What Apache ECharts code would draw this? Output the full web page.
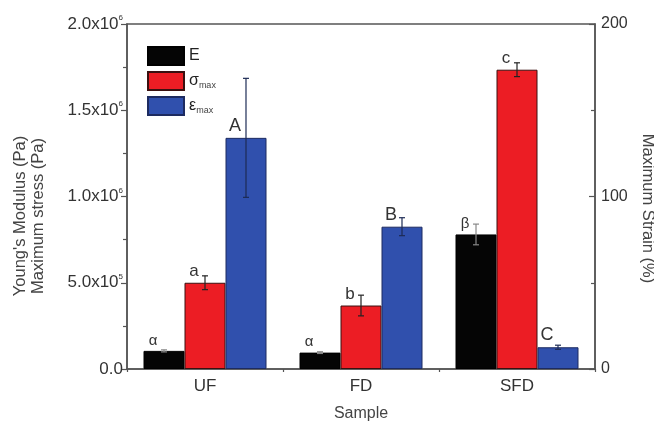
<!DOCTYPE html>
<html><head><meta charset="utf-8">
<script src="https://cdn.jsdelivr.net/npm/echarts@6/dist/echarts.min.js"></script>
<style>html,body{margin:0;padding:0;background:#fff}#c{width:654px;height:427px}</style>
</head><body><div id="c"></div>
<script>
const categories = ['UF', 'FD', 'SFD'];
const youngE = [1.05e5, 0.95e5, 7.8e5];
const youngErr = [6e3, 5e3, 6e4];
const stressMax = [5.0e5, 3.68e5, 1.735e6];
const stressErr = [4e4, 6e4, 4e4];
const strainMax = [134, 82.5, 12.6];
const strainErr = [34.5, 5.2, 1.2];
const labelsE = ['α', 'α', 'β'];
const labelsS = ['a', 'b', 'c'];
const labelsStrain = ['A', 'B', 'C'];
const leftTicks = [0, 5e5, 1e6, 1.5e6, 2e6];
const rightTicks = [0, 100, 200];

const FONT = 'Liberation Sans, Arial, sans-serif';
const AX = '#555';

function fmtLeft(v) {
  if (v === 0) return '0.0';
  const e = Math.floor(Math.log10(v) + 1e-9);
  const m = v / Math.pow(10, e);
  return m.toFixed(1) + 'x10{sup|' + e + '}';
}

function errSeries(name, vals, errs, yIdx, offFrac, color) {
  return {
    type: 'custom', name: name + '_err', yAxisIndex: yIdx, z: 5,
    data: vals.map((v, i) => [i, v, errs[i]]),
    renderItem: function (params, api) {
      const band = api.size([1, 0])[0];
      const top = api.coord([api.value(0), api.value(1) + api.value(2)]);
      const bot = api.coord([api.value(0), api.value(1) - api.value(2)]);
      const x = top[0] + band * offFrac;
      const cap = 3;
      const st = { stroke: color, lineWidth: 1.2 };
      return { type: 'group', children: [
        { type: 'line', shape: { x1: x, y1: top[1], x2: x, y2: bot[1] }, style: st },
        { type: 'line', shape: { x1: x - cap, y1: top[1], x2: x + cap, y2: top[1] }, style: st },
        { type: 'line', shape: { x1: x - cap, y1: bot[1], x2: x + cap, y2: bot[1] }, style: st }
      ]};
    },
    silent: true, tooltip: { show: false }
  };
}

function barLabel(arr, size) {
  return {
    show: true, position: 'top', distance: 3, offset: [-11, 0],
    formatter: p => arr[p.dataIndex],
    fontFamily: FONT, fontSize: size, color: '#333'
  };
}

const chart = echarts.init(document.getElementById('c'));
chart.setOption({
  animation: false,
  backgroundColor: '#fff',
  grid: { left: 127, right: 59, top: 24, bottom: 58, containLabel: false, outerBoundsMode: 'none',
    show: true, borderColor: AX, borderWidth: 1.5, backgroundColor: 'transparent' },
  legend: {
    orient: 'vertical', left: 142, top: 41, itemWidth: 36, itemHeight: 18, itemGap: 5, icon: 'rect',
    data: ['E', 'σmax', 'εmax'],
    formatter: function (n) {
      if (n === 'E') return '{a|E}';
      return '{a|' + n.charAt(0) + '}{sub|max}';
    },
    textStyle: {
      fontFamily: FONT, color: '#222',
      rich: { a: { fontSize: 16, fontFamily: FONT, color: '#222' }, sub: { fontSize: 9, fontFamily: FONT, color: '#444', padding: [10, 0, 0, 0] } }
    }
  },
  xAxis: [{
    type: 'category', data: categories, position: 'bottom',
    axisLine: { lineStyle: { color: AX, width: 1.5 } },
    axisTick: { alignWithLabel: true, length: 6, lineStyle: { color: AX, width: 1.2 } },
    axisLabel: { fontFamily: FONT, fontSize: 17, color: '#333', margin: 9 },
    name: 'Sample', nameLocation: 'middle', nameGap: 37,
    nameTextStyle: { fontFamily: FONT, fontSize: 16, color: '#444' }
  }, {
    type: 'category', data: categories, position: 'bottom',
    axisLine: { show: false },
    axisTick: { show: true, length: 3, interval: 0, lineStyle: { color: AX, width: 1.2 } },
    axisLabel: { show: false }
  }],
  yAxis: [{
    type: 'value', min: 0, max: 2e6, interval: 5e5, position: 'left',
    axisLine: { show: true, lineStyle: { color: AX, width: 1.5 } },
    axisTick: { show: true, length: 6, lineStyle: { color: AX, width: 1.2 } },
    minorTick: { show: true, splitNumber: 2, length: 4, lineStyle: { color: AX, width: 1.2 } },
    splitLine: { show: false },
    axisLabel: {
      formatter: fmtLeft, fontFamily: FONT, fontSize: 17, color: '#333', margin: 4,
      rich: { sup: { fontSize: 8, fontFamily: FONT, color: '#333', padding: [0, 0, 12, 0] } }
    },
    name: "Young's Modulus (Pa)\nMaximum stress (Pa)", nameLocation: 'middle', nameGap: 80, nameRotate: 90,
    nameTextStyle: { fontFamily: FONT, fontSize: 16.5, color: '#444', lineHeight: 18, padding: [0, 0, 0, -39] }
  }, {
    type: 'value', min: 0, max: 200, interval: 100, position: 'right',
    axisLine: { show: true, lineStyle: { color: AX, width: 1.5 } },
    axisTick: { show: true, inside: true, length: 6, lineStyle: { color: AX, width: 1.2 } },
    minorTick: { show: true, splitNumber: 2, length: 4, lineStyle: { color: AX, width: 1.2 } },
    splitLine: { show: false },
    axisLabel: { fontFamily: FONT, fontSize: 16, color: '#333', margin: 6 },
    name: 'Maximum Strain (%)', nameLocation: 'middle', nameGap: 42, nameRotate: -90,
    nameTextStyle: { fontFamily: FONT, fontSize: 16.5, color: '#444', padding: [0, -24, 0, 0] }
  }],
  series: [
    { type: 'bar', name: 'E', data: youngE, yAxisIndex: 0, barWidth: 41, barGap: '0%',
      itemStyle: { color: '#050505', borderColor: '#000', borderWidth: 1 }, label: barLabel(labelsE, 15) },
    { type: 'bar', name: 'σmax', data: stressMax, yAxisIndex: 0, barWidth: 41, barGap: '0%',
      itemStyle: { color: '#ec1d24', borderColor: '#3a1010', borderWidth: 1 }, label: barLabel(labelsS, 17) },
    { type: 'bar', name: 'εmax', data: strainMax, yAxisIndex: 1, barWidth: 41, barGap: '0%',
      itemStyle: { color: '#3050ad', borderColor: '#1d2b60', borderWidth: 1 }, label: barLabel(labelsStrain, 18) },
    errSeries('E', youngE, youngErr, 0, -0.2628, '#888'),
    errSeries('σmax', stressMax, stressErr, 0, 0, '#222'),
    errSeries('εmax', strainMax, strainErr, 1, 0.2628, '#1d2b55')
  ]
});
</script></body></html>
